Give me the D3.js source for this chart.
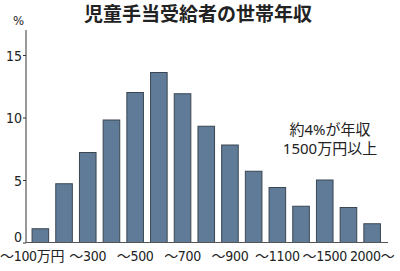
<!DOCTYPE html>
<html>
<head>
<meta charset="utf-8">
<script src="https://cdn.jsdelivr.net/npm/d3@7"></script>
<style>
body { margin: 0; background: #fff; }
text { font-family: "Noto Sans", "Noto Sans CJK JP", sans-serif; fill: #222; }
.cond { font-family: "DejaVu Sans", "Noto Sans CJK JP", sans-serif; font-stretch: condensed; }
</style>
</head>
<body>
<svg width="400" height="271"></svg>
<script>
var categories = ["〜100", "〜200", "〜300", "〜400", "〜500", "〜600", "〜700", "〜800",
    "〜900", "〜1000", "〜1100", "〜1200", "〜1500", "〜2000", "2000〜"];
var shares = [1.1, 4.7, 7.2, 9.8, 12.0, 13.6, 11.9, 9.3, 7.8, 5.7, 4.4, 2.9, 5.0, 2.8, 1.5];
var xLabels = {"〜100": "〜100万円", "〜300": "〜300", "〜500": "〜500", "〜700": "〜700",
    "〜900": "〜900", "〜1100": "〜1100", "〜1500": "〜1500", "2000〜": "2000〜"};
var yTicks = [0, 5, 10, 15];

var svg = d3.select("svg");
var axisX = 26;
var baseY = 242.5;

var x = d3.scaleBand()
    .domain(categories)
    .range([28.5, 384])
    .paddingInner(0.3)
    .paddingOuter(0.15);

var y = d3.scaleLinear()
    .domain([0, 17])
    .range([baseY, baseY - 17 * 12.5]);

// title
svg.append("text")
    .attr("x", 198)
    .attr("y", 21)
    .attr("text-anchor", "middle")
    .style("font-size", "19px")
    .style("font-weight", "bold")
    .style("font-family", "'Noto Sans CJK JP', sans-serif")
    .text("児童手当受給者の世帯年収");

svg.append("text")
    .attr("class", "cond")
    .attr("x", 18.5)
    .attr("y", 25)
    .attr("text-anchor", "middle")
    .style("font-size", "13px")
    .text("%");

// bars
svg.append("g").selectAll("rect")
    .data(shares)
    .join("rect")
    .attr("x", function(d, i) { return x(categories[i]); })
    .attr("y", function(d) { return y(d); })
    .attr("width", x.bandwidth())
    .attr("height", function(d) { return baseY - y(d); })
    .attr("fill", "#5f7b97")
    .attr("stroke", "#3b4652")
    .attr("stroke-width", 1);

// y axis
var yAxis = svg.append("g")
    .attr("transform", "translate(" + axisX + ",0)")
    .call(d3.axisLeft(y).tickValues(yTicks).tickSize(3).tickPadding(1));
yAxis.attr("font-family", null).attr("font-size", null);
yAxis.select(".domain").attr("d", "M0," + y(17) + "V" + baseY).attr("stroke", "#333");
yAxis.selectAll(".tick line").attr("stroke", "#333");
yAxis.selectAll(".tick text")
    .attr("class", "cond")
    .style("font-size", "14px")
    .attr("fill", "#222")
    .attr("dy", function(d) { return d === 0 ? "-0.05em" : "0.36em"; });

// baseline
svg.append("line")
    .attr("x1", axisX)
    .attr("x2", 388)
    .attr("y1", baseY)
    .attr("y2", baseY)
    .attr("stroke", "#555")
    .attr("stroke-width", 1.2);

// x labels
svg.append("g").selectAll("text")
    .data(categories.filter(function(c) { return xLabels[c]; }))
    .join("text")
    .attr("class", "cond")
    .attr("x", function(c, i) { return i === 0 ? 0 : x(c) + x.bandwidth() / 2; })
    .attr("y", 261)
    .attr("text-anchor", function(c, i) { return i === 0 ? "start" : "middle"; })
    .attr("letter-spacing", -0.3)
    .style("font-size", "14px")
    .text(function(c) { return xLabels[c]; });

// annotation
svg.append("text")
    .attr("x", 330)
    .attr("y", 135)
    .attr("text-anchor", "middle")
    .style("font-size", "15px")
    .text("約4%が年収");
svg.append("text")
    .attr("x", 330)
    .attr("y", 154)
    .attr("text-anchor", "middle")
    .style("font-size", "15px")
    .text("1500万円以上");
</script>
</body>
</html>
